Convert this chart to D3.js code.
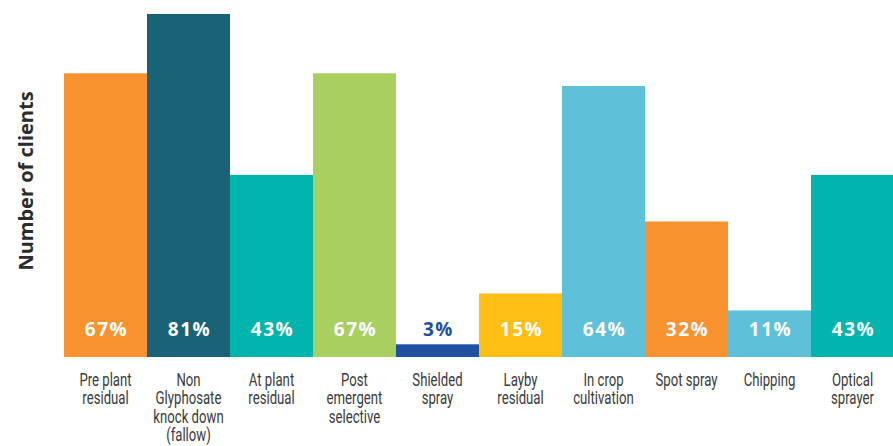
<!DOCTYPE html>
<html>
<head>
<meta charset="utf-8">
<script src="https://cdn.jsdelivr.net/npm/d3@7/dist/d3.min.js"></script>
<style>
  html, body { margin: 0; padding: 0; background: #fff; }
  svg { display: block; }
</style>
</head>
<body>
<svg id="chart" width="893" height="446"></svg>
<script>
// Weed-control practices used by clients (share of clients, %)
const categories = [
  ["Pre plant", "residual"],
  ["Non", "Glyphosate", "knock down", "(fallow)"],
  ["At plant", "residual"],
  ["Post", "emergent", "selective"],
  ["Shielded", "spray"],
  ["Layby", "residual"],
  ["In crop", "cultivation"],
  ["Spot spray"],
  ["Chipping"],
  ["Optical", "sprayer"]
];
const values = [67, 81, 43, 67, 3, 15, 64, 32, 11, 43];
const barColors = ["#F7922F", "#1A6376", "#00B5AD", "#A8CF60", "#1F51A0",
                   "#FDBF14", "#5FC1D9", "#F7922F", "#5FC1D9", "#00B5AD"];
const labelColors = ["#fff", "#fff", "#fff", "#fff", "#1F51A0",
                     "#fff", "#fff", "#fff", "#fff", "#fff"];
const yTitle = "Number of clients";

const svg = d3.select("#chart");
const left = 64, right = 894, bottom = 357;

const x = d3.scaleBand().domain(d3.range(values.length)).range([left, right]).padding(0);
const y = d3.scaleLinear().domain([0, 81]).range([bottom, 14]);

svg.append("g").selectAll("rect")
  .data(values)
  .join("rect")
  .attr("x", (d, i) => x(i))
  .attr("width", x.bandwidth())
  .attr("y", d => y(d))
  .attr("height", d => bottom - y(d))
  .attr("fill", (d, i) => barColors[i]);

// value labels, all on one line just above the base
svg.append("g").selectAll("text")
  .data(values)
  .join("text")
  .attr("x", (d, i) => x(i) + x.bandwidth() / 2 + 1)
  .attr("y", 336)
  .attr("text-anchor", "middle")
  .attr("font-family", "'Open Sans', sans-serif")
  .attr("font-weight", 700)
  .attr("font-size", 19)
  .attr("letter-spacing", 1.6)
  .attr("fill", (d, i) => labelColors[i])
  .text(d => d + "%");

// category labels under each bar, one text per line, squeezed to a condensed width
const lines = categories.flatMap((c, i) => c.map((t, j) => ({ t, i, j })));
svg.append("g").selectAll("text")
  .data(lines)
  .join("text")
  .attr("x", d => x(d.i) + x.bandwidth() / 2)
  .attr("y", d => 386 + d.j * 18.3)
  .attr("text-anchor", "middle")
  .attr("font-family", "Roboto, sans-serif")
  .attr("font-size", 17.8)
  .attr("fill", "#3a3a3a")
  .text(d => d.t)
  .each(function () {
    const w = this.getComputedTextLength();
    d3.select(this)
      .attr("textLength", (w * 0.74).toFixed(1))
      .attr("lengthAdjust", "spacingAndGlyphs");
  });

// y-axis title
svg.append("text")
  .attr("transform", "translate(33,181) rotate(-90)")
  .attr("text-anchor", "middle")
  .attr("font-family", "'Open Sans', sans-serif")
  .attr("font-weight", 700)
  .attr("font-size", 20)
  .attr("fill", "#2b2b2b")
  .text(yTitle);
</script>
</body>
</html>
